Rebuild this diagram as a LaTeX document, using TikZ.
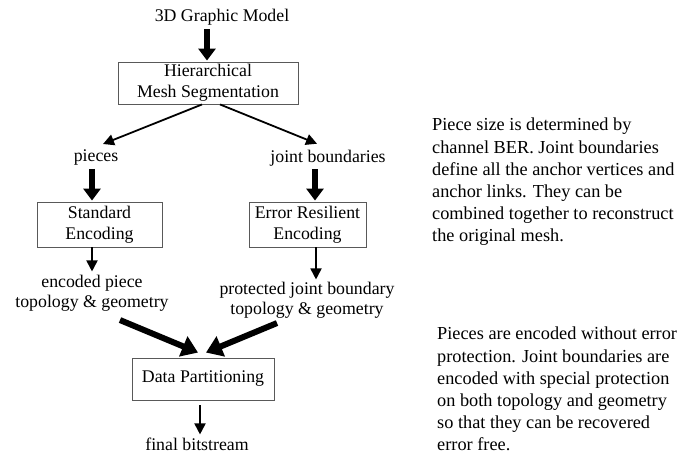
\documentclass[tikz,border=0pt]{standalone}
\usepackage{fontspec}
\setmainfont{Liberation Serif}
\usetikzlibrary{arrows.meta}
\begin{document}
\begin{tikzpicture}[x=1pt,y=-1pt,
  lbl/.style={font=\fontsize{17.8}{20.5}\selectfont, align=center, inner sep=0pt},
  boxn/.style={draw=black!65, line width=0.9pt, font=\fontsize{17.8}{21}\selectfont, align=center, inner sep=0pt},
  note/.style={font=\fontsize{18.3}{22.2}\selectfont, align=left, inner sep=0pt, anchor=north west},
  bigarrow/.style={line width=5.5pt, -{Triangle[width=17pt,length=12pt]}},
  fatarrow/.style={line width=6pt, -{Triangle[width=21pt,length=16pt]}},
  smallarrow/.style={line width=1.8pt, -{Triangle[width=11pt,length=11pt]}}
]
\useasboundingbox (0,0) rectangle (688,457);
\fill[white] (0,0) rectangle (688,457);

\node[lbl] (title) at (222,17) {3D Graphic Model};
\node[boxn, minimum width=180pt, minimum height=42pt] (H) at (208,83) {Hierarchical\\Mesh Segmentation};
\node[lbl] (pieces) at (96,158) {pieces};
\node[lbl] (joint) at (328,158) {joint boundaries};
\node[boxn, minimum width=125pt, minimum height=45pt] (SE) at (99.5,224.5) {Standard\\Encoding};
\node[boxn, minimum width=117pt, minimum height=45pt] (ER) at (307.5,224.5) {Error Resilient\\Encoding};
\node[lbl] (enc) at (92,293) {encoded piece\\topology \& geometry};
\node[lbl] (prot) at (307,300) {protected joint boundary\\topology \& geometry};
\node[boxn, minimum width=142pt, minimum height=42pt] (DP) at (203,379) {Data Partitioning};
\node[lbl] (final) at (197,444) {final bitstream};

\node[note] (n1) at (432,118) {Piece size is determined by\\channel BER. Joint boundaries\\define all the anchor vertices and\\anchor links. They can be\\combined together to reconstruct\\the original mesh.};
\node[note] (n2) at (437,327) {Pieces are encoded without error\\protection. Joint boundaries are\\encoded with special protection\\on both topology and geometry\\so that they can be recovered\\error free.};

\draw[bigarrow] ([xshift=-15pt,yshift=-4pt]title.south) -- ([xshift=-1pt,yshift=1pt]H.north);
\draw[smallarrow] ([xshift=-6pt]H.south) -- ([xshift=7pt,yshift=6pt]pieces.north);
\draw[smallarrow] ([xshift=12pt]H.south) -- ([xshift=-11pt,yshift=6pt]joint.north);
\draw[bigarrow] ([xshift=-4pt,yshift=-3pt]pieces.south) -- ([xshift=-7.5pt,yshift=1pt]SE.north);
\draw[bigarrow] ([xshift=-13pt,yshift=-3pt]joint.south) -- ([xshift=7.5pt,yshift=1pt]ER.north);
\draw[smallarrow] ([xshift=-7.5pt]SE.south) -- ([yshift=3pt]enc.north);
\draw[smallarrow] ([xshift=8.5pt]ER.south) -- ([xshift=9pt,yshift=2pt]prot.north);
\draw[fatarrow] ([xshift=28pt,yshift=-8.5pt]enc.south) -- ([xshift=-5pt,yshift=5pt]DP.north);
\draw[fatarrow] ([xshift=-30pt,yshift=-4.5pt]prot.south) -- ([xshift=3pt,yshift=5pt]DP.north);
\draw[smallarrow] ([xshift=-3pt,yshift=-5pt]DP.south) -- ([xshift=3pt,yshift=3pt]final.north);
\end{tikzpicture}
\end{document}
